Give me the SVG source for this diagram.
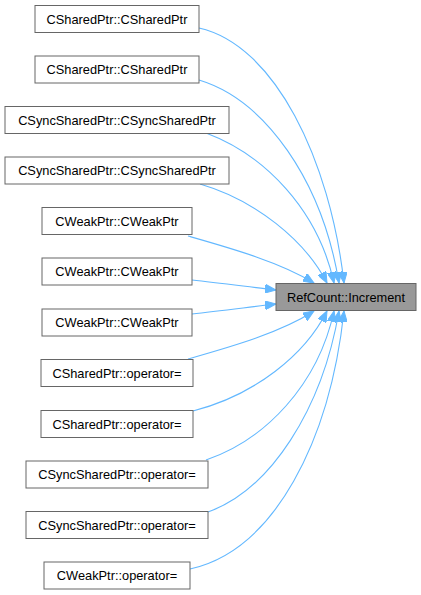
<svg xmlns="http://www.w3.org/2000/svg" width="421" height="595" viewBox="0 0 421 595">
<defs>
<style>
.node rect{fill:#ffffff;stroke:#666666;stroke-width:1}
.node.target rect{fill:#999999}
.node text{font-family:"Liberation Sans",Arial,sans-serif;font-size:12.8px;text-anchor:middle;fill:#000000}
.edges path{fill:none;stroke:#63b8ff;stroke-width:1.1}
</style>
<marker id="arr" markerUnits="userSpaceOnUse" markerWidth="12" markerHeight="9" refX="11" refY="4.5" orient="auto" viewBox="0 0 12 9">
<path d="M0,0 L11,4.5 L0,9 z" fill="#63b8ff" stroke="#63b8ff" stroke-width="1"/>
</marker>
</defs>
<rect width="421" height="595" fill="#ffffff"/>
<g id="edges" class="edges">
<path marker-end="url(#arr)" d="M199,28 C275,45 330,160 344,283"/>
<path marker-end="url(#arr)" d="M199,80 C265,100 322,180 339,283"/>
<path marker-end="url(#arr)" d="M206,133 C265,155 318,210 334,283"/>
<path marker-end="url(#arr)" d="M200,184 C255,200 305,240 327,283"/>
<path marker-end="url(#arr)" d="M188,236 C230,248 280,262 314,283"/>
<path marker-end="url(#arr)" d="M192,280 C220,283 250,287 276,290"/>
<path marker-end="url(#arr)" d="M192,314 C220,311 250,307 276,304"/>
<path marker-end="url(#arr)" d="M188,359 C230,347 280,333 314,311"/>
<path marker-end="url(#arr)" d="M193,411 C255,395 305,355 327,311"/>
<path marker-end="url(#arr)" d="M206,460 C265,440 318,385 334,311"/>
<path marker-end="url(#arr)" d="M208,512 C270,490 322,410 339,311"/>
<path marker-end="url(#arr)" d="M190,569 C275,550 330,440 344,311"/>
</g>
<g id="n1" class="node"><rect x="35" y="5.5" width="164" height="27"/><text x="117" y="23.5">CSharedPtr::CSharedPtr</text></g>
<g id="n2" class="node"><rect x="35" y="56" width="164" height="27"/><text x="117" y="74">CSharedPtr::CSharedPtr</text></g>
<g id="n3" class="node"><rect x="5" y="106.5" width="224" height="27"/><text x="117" y="124.5">CSyncSharedPtr::CSyncSharedPtr</text></g>
<g id="n4" class="node"><rect x="5" y="157" width="224" height="27"/><text x="117" y="175">CSyncSharedPtr::CSyncSharedPtr</text></g>
<g id="n5" class="node"><rect x="42" y="207.5" width="150" height="27"/><text x="117" y="225.5">CWeakPtr::CWeakPtr</text></g>
<g id="n6" class="node"><rect x="42" y="258" width="150" height="27"/><text x="117" y="276">CWeakPtr::CWeakPtr</text></g>
<g id="n7" class="node"><rect x="42" y="309" width="150" height="27"/><text x="117" y="327">CWeakPtr::CWeakPtr</text></g>
<g id="n8" class="node"><rect x="41" y="359.5" width="152" height="27"/><text x="117" y="377.5">CSharedPtr::operator=</text></g>
<g id="n9" class="node"><rect x="41" y="410.5" width="152" height="27"/><text x="117" y="428.5">CSharedPtr::operator=</text></g>
<g id="n10" class="node"><rect x="26" y="461" width="182" height="27"/><text x="117" y="479">CSyncSharedPtr::operator=</text></g>
<g id="n11" class="node"><rect x="26" y="511.5" width="182" height="27"/><text x="117" y="529.5">CSyncSharedPtr::operator=</text></g>
<g id="n12" class="node"><rect x="44" y="562" width="146" height="27"/><text x="117" y="580">CWeakPtr::operator=</text></g>
<g id="target" class="node target"><rect x="276" y="283.5" width="140" height="27"/><text x="346" y="301.5">RefCount::Increment</text></g>
</svg>
